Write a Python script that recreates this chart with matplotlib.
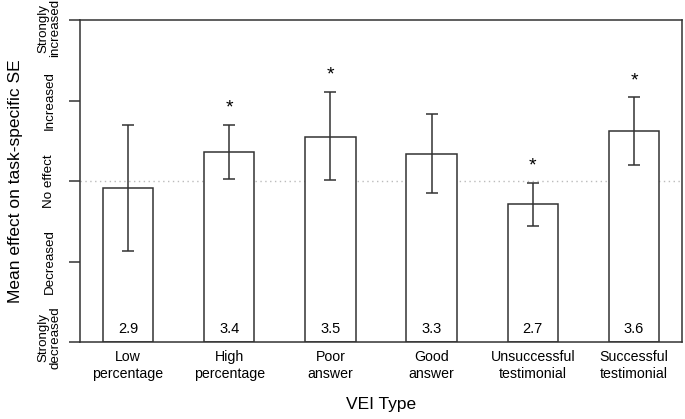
import numpy as np
import matplotlib.pyplot as plt
from matplotlib.transforms import ScaledTranslation

plt.rcParams['font.family'] = ['Liberation Sans', 'DejaVu Sans']

# data
categories = ["Low\npercentage", "High\npercentage", "Poor\nanswer", "Good\nanswer",
              "Unsuccessful\ntestimonial", "Successful\ntestimonial"]
means = [2.91, 3.36, 3.55, 3.34, 2.71, 3.62]
err_low = [2.13, 3.02, 3.01, 2.85, 2.44, 3.20]
err_high = [3.70, 3.70, 4.11, 3.83, 2.98, 4.04]
value_labels = ["2.9", "3.4", "3.5", "3.3", "2.7", "3.6"]
significant = [False, True, True, False, True, True]
ytick_vals = [1, 2, 3, 4, 5]
ytick_labels = ["Strongly\ndecreased", "Decreased", "No effect", "Increased", "Strongly\nincreased"]

means = np.array(means)
lo = means - np.array(err_low)
hi = np.array(err_high) - means
x = np.arange(len(categories))
base = 1

fig = plt.figure(figsize=(6.85, 4.19), dpi=100)
ax = fig.add_axes([0.1168, 0.1838, 0.8788, 0.7682])

line_col = "#333333"
ax.axhline(3, color="#bbbbbb", linestyle=(0, (1, 2.5)), linewidth=1, zorder=0)
ax.bar(x, means - base, bottom=base, width=0.5, facecolor="white",
       edgecolor=line_col, linewidth=1.1, zorder=1)
ax.errorbar(x, means, yerr=[lo, hi], fmt="none", ecolor=line_col,
            elinewidth=1.1, capsize=4.5, capthick=1.1, zorder=2)

for i in range(len(x)):
    ax.text(x[i], 1.07, value_labels[i], ha="center", va="bottom", fontsize=10.5)
    if significant[i]:
        ax.text(x[i], err_high[i] + 0.1, "*", ha="center", va="bottom", fontsize=14)

ax.set_xlim(-0.474, 5.474)
ax.set_ylim(1, 5)
ax.set_xticks(x)
ax.set_xticklabels(categories, fontsize=10.2)
ax.tick_params(axis="x", length=0, pad=6)
ax.set_yticks(ytick_vals)
ax.set_yticklabels(ytick_labels, rotation=90, va="center", ha="center",
                   fontsize=9.6, linespacing=0.9)
ax.tick_params(axis="y", length=8, width=1.1, color=line_col, pad=14)
for s in ax.spines.values():
    s.set_color(line_col)
    s.set_linewidth(1.1)

# top label nudged down so it stays inside the figure, like the original
top_lab = ax.get_yticklabels()[-1]
top_lab.set_transform(top_lab.get_transform() + ScaledTranslation(0, -8 / 100, fig.dpi_scale_trans))
bot_lab = ax.get_yticklabels()[0]
bot_lab.set_transform(bot_lab.get_transform() + ScaledTranslation(0, 4 / 100, fig.dpi_scale_trans))

ax.set_xlabel("VEI Type", fontsize=12.5, labelpad=12)
ax.set_ylabel("Mean effect on task-specific SE", fontsize=12.5, labelpad=11)

fig.savefig("out.png", dpi=100)
